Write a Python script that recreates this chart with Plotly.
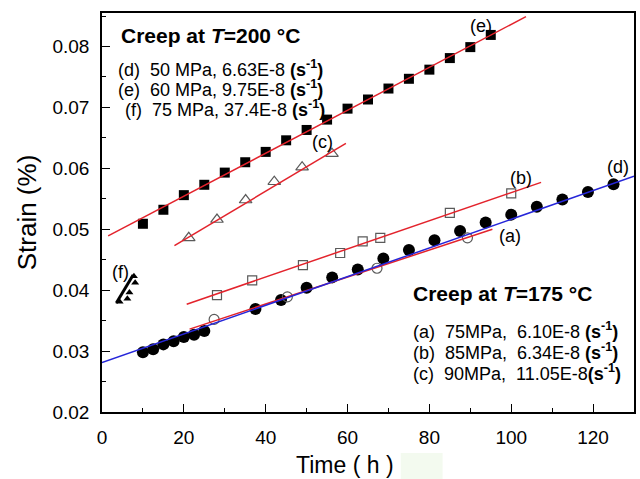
import plotly.graph_objects as go

# ---- measured creep strain (%) vs time (h) ----
# (d) filled circles
t_d = [10, 12.5, 15, 17.5, 20, 22.5, 25, 37.5, 43.75, 50, 56.25, 62.5, 68.75,
       75, 81.25, 87.5, 93.75, 100, 106.25, 112.5, 118.75, 125]
s_d = [0.0298, 0.0303, 0.0311, 0.0316, 0.0323, 0.0327, 0.0333, 0.0369, 0.0384,
       0.0404, 0.0421, 0.0434, 0.0452, 0.0466, 0.0482, 0.0497, 0.0511, 0.0524,
       0.0537, 0.0549, 0.0561, 0.0574]
# (e) filled squares
t_e = [10, 15, 20, 25, 30, 35, 40, 45, 50, 55, 60, 65, 70, 75, 80, 85, 90, 95]
s_e = [0.0509, 0.0532, 0.0556, 0.0573, 0.0593, 0.0610, 0.0627, 0.0646, 0.0663,
       0.0680, 0.0698, 0.0713, 0.0731, 0.0747, 0.0762, 0.0781, 0.0799, 0.0819]
# (f) filled triangles
t_f = [4.3, 6.2, 6.7, 8.1, 7.8]
s_f = [0.0381, 0.0386, 0.0396, 0.0412, 0.0423]
# (a) open circles
t_a = [27.4, 45.3, 67.2, 89.3]
s_a = [0.0352, 0.0389, 0.0436, 0.0486]
# (b) open squares
t_b = [28.1, 36.7, 49.1, 58.2, 63.7, 68.0, 85.0, 100.0]
s_b = [0.0392, 0.0416, 0.0441, 0.0461, 0.0480, 0.0486, 0.0527, 0.0559]
# (c) open triangles
t_c = [21.2, 28.1, 35.1, 42.1, 48.9, 56.2]
s_c = [0.0486, 0.0516, 0.0548, 0.0578, 0.0602, 0.0624]

# ---- linear fits (start / end of each fitted segment) ----
fit_a_t, fit_a_s = [21.4, 95.4], [0.0336, 0.0500]
fit_b_t, fit_b_s = [20.7, 107.3], [0.0377, 0.0577]
fit_c_t, fit_c_s = [17.7, 59.6], [0.0473, 0.0641]
fit_d_t, fit_d_s = [0, 130], [0.0281, 0.0587]
fit_e_t, fit_e_s = [1.5, 103.6], [0.0489, 0.0849]
fit_f_t, fit_f_s = [3.5, 7.6], [0.0379, 0.0425]

x_ticks = [0, 20, 40, 60, 80, 100, 120]
y_ticks = [0.02, 0.03, 0.04, 0.05, 0.06, 0.07, 0.08]

RED = "#e3232c"
BLUE = "#2626d9"
GREY = "#5a5a5a"
SANS = "Liberation Sans, Arial, sans-serif"

fig = go.Figure()


def markers(x, y, symbol, size, color, line_w=0):
    fig.add_trace(go.Scatter(
        x=x, y=y, mode="markers",
        marker=dict(symbol=symbol, size=size, color=color,
                    line=dict(width=line_w, color=color)),
        showlegend=False, hoverinfo="skip"))


def fit(x, y, color, width=1.5):
    fig.add_trace(go.Scatter(
        x=x, y=y, mode="lines", line=dict(color=color, width=width),
        showlegend=False, hoverinfo="skip"))


markers(t_d, s_d, "circle", 12, "black")
markers(t_e, s_e, "square", 10, "black")
markers(t_f, s_f, "triangle-up", 7, "black")
markers(t_a, s_a, "circle-open", 10, GREY, 1.2)
markers(t_b, s_b, "square-open", 9, GREY, 1.2)
markers(t_c, s_c, "triangle-up-open", 11, GREY, 1.2)

fit(fit_a_t, fit_a_s, RED)
fit(fit_b_t, fit_b_s, RED)
fit(fit_c_t, fit_c_s, RED)
fit(fit_d_t, fit_d_s, BLUE)
fit(fit_e_t, fit_e_s, RED)
fit(fit_f_t, fit_f_s, "black", 3)

# series tags next to the data
tags = [("(a)", 99.8, 0.0489), ("(b)", 102.5, 0.0584), ("(c)", 53.8, 0.0644),
        ("(d)", 126.1, 0.0602), ("(e)", 92.5, 0.0834), ("(f)", 4.6, 0.0430)]
for txt, tx, ty in tags:
    fig.add_annotation(x=tx, y=ty, xref="x", yref="y", text=txt, showarrow=False,
                       font=dict(family=SANS, size=18, color="black"))

# condition blocks (paper coords)
L, R, T, B = 102.3, 636.0, 13.0, 412.0


def px(xpix):
    return (xpix - L) / (R - L)


def py(ypix):
    return (B - ypix) / (B - T)


unit = "<b>(s<sup>-1</sup>)</b>"
blocks = [
    ("<b>Creep at <i>T</i>=200 °C</b>", 119, 35, 21),
    ("(d)  50 MPa, 6.63E-8 " + unit, 116, 68, 18),
    ("(e)  60 MPa, 9.75E-8 " + unit, 116, 88, 18),
    (" (f)  75 MPa, 37.4E-8 " + unit, 118, 108, 18),
    ("<b>Creep at <i>T</i>=175 °C</b>", 412, 293, 21),
    ("(a)  75MPa,  6.10E-8 " + unit, 412, 330, 18),
    ("(b)  85MPa,  6.34E-8 " + unit, 412, 351, 18),
    ("(c)  90MPa,  11.05E-8" + unit, 412, 372, 18),
]
for txt, lx, cy, fs in blocks:
    fig.add_annotation(x=px(lx), y=py(cy), xref="paper", yref="paper", text=txt,
                       showarrow=False, xanchor="left", yanchor="middle",
                       font=dict(family=SANS, size=fs, color="black"))

# x-axis title, placed left of the plot centre
fig.add_annotation(x=px(346), y=py(465), xref="paper", yref="paper",
                   text="Time ( h )", showarrow=False,
                   xanchor="center", yanchor="middle",
                   font=dict(family=SANS, size=23, color="black"))

# faint tinted patch under the x-axis title
fig.add_shape(type="rect", xref="paper", yref="paper", layer="below",
              x0=px(402), x1=px(444), y0=py(479), y1=py(453),
              line=dict(width=0), fillcolor="#f3faef")

axis_common = dict(
    showline=True, linewidth=1.6, linecolor="black", mirror=True,
    ticks="inside", ticklen=8, tickwidth=1.3, tickcolor="black",
    showgrid=False, zeroline=False,
    tickfont=dict(family=SANS, size=19, color="black"),
)

fig.update_xaxes(
    range=[0, 130], tickvals=x_ticks,
    minor=dict(ticks="inside", ticklen=4, dtick=10, tick0=0, tickcolor="black", tickwidth=1.2),
    ticklabelstandoff=7,
    **axis_common)
fig.update_yaxes(
    range=[0.02, 0.0855], tickvals=y_ticks, ticktext=[f"{v:.2f}" for v in y_ticks],
    minor=dict(ticks="inside", ticklen=4, dtick=0.005, tick0=0.02, tickcolor="black", tickwidth=1.2),
    title=dict(text="Strain (%)", font=dict(family=SANS, size=26, color="black"), standoff=8),
    ticklabelstandoff=7,
    **axis_common)

fig.update_layout(
    width=640, height=479,
    margin=dict(l=102, r=4, t=13, b=67),
    paper_bgcolor="white", plot_bgcolor="white",
)

fig.write_html("out.html")
